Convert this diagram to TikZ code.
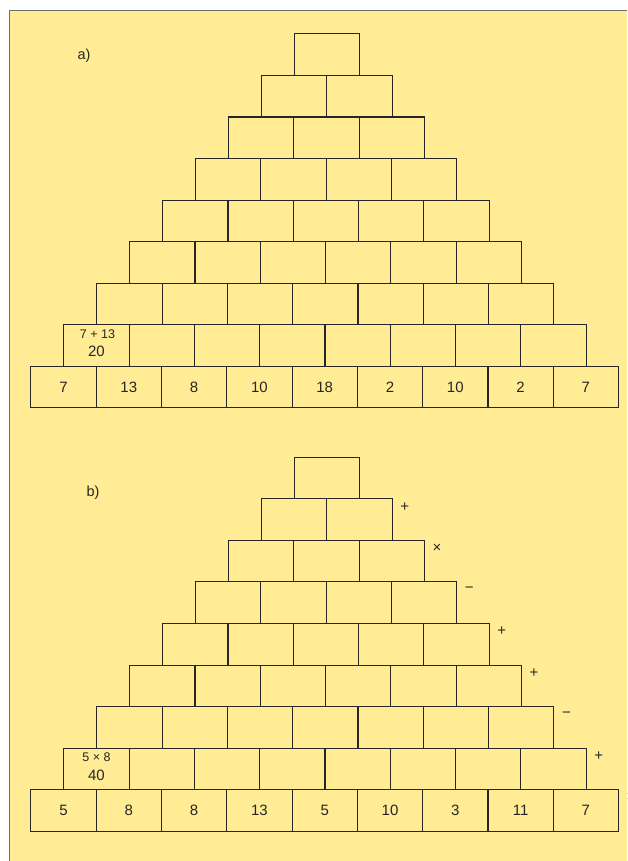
\documentclass[tikz,border=0pt]{standalone}
\usepackage{fontspec}
\setmainfont{Liberation Sans}
\usetikzlibrary{calc}
\definecolor{bgyellow}{RGB}{255,236,148}
\definecolor{linec}{RGB}{38,38,38}
\definecolor{framec}{RGB}{110,110,110}
\begin{document}
\begin{tikzpicture}[x=1pt,y=-1pt,
  cell/.style={draw=linec, line width=1.1pt, minimum width=65.3pt, minimum height=41.56pt,
    inner sep=0pt, anchor=north west, font=\fontsize{15}{17}\selectfont, text=linec},
  note/.style={inner sep=0pt, font=\fontsize{12.5}{14}\selectfont, text=linec},
  bignum/.style={inner sep=0pt, font=\fontsize{15}{17}\selectfont, text=linec},
  opsign/.style={inner sep=0pt, font=\fontsize{15}{17}\selectfont, text=linec},
  partlabel/.style={inner sep=0pt, font=\fontsize{14.5}{16}\selectfont, text=linec}]
\useasboundingbox (0,0) rectangle (627,861);
\fill[bgyellow] (9,11) rectangle (627,861);
\draw[framec, line width=1pt] (9,861) -- (9,11) -- (627,11);

% part a
\foreach \r in {1,...,8} {
  \foreach \k in {1,...,\r} {
    \node[cell] (a-\r-\k) at ({30.3+(9-\r)*32.95+(\k-1)*65.3},{33.3+(\r-1)*41.56}) {};
  }
}
\foreach \v [count=\k] in {7,13,8,10,18,2,10,2,7} {
  \node[cell] (a-9-\k) at ({30.3+(\k-1)*65.3},{33.3+8*41.56}) {\v};
}
\node[note] (a-note) at ($(a-8-1.north)+(1,10)$) {7 + 13};
\node[bignum] (a-sum) at ($(a-8-1.north)+(0,27.5)$) {20};
\node[partlabel] (a-label) at (84,56) {a)};

% part b
\foreach \r in {1,...,8} {
  \foreach \k in {1,...,\r} {
    \node[cell] (b-\r-\k) at ({30.3+(9-\r)*32.95+(\k-1)*65.3},{456.7+(\r-1)*41.56}) {};
  }
}
\foreach \v [count=\k] in {5,8,8,13,5,10,3,11,7} {
  \node[cell] (b-9-\k) at ({30.3+(\k-1)*65.3},{456.7+8*41.56}) {\v};
}
\node[note] (b-note) at ($(b-8-1.north)+(0,10)$) {5 × 8};
\node[bignum] (b-prod) at ($(b-8-1.north)+(0,27.5)$) {40};
\node[partlabel] (b-label) at (93,493) {b)};

\foreach \s [count=\i from 2] in {+,×,−,+,+,−,+,×} {
  \node[opsign] (b-sign-\i) at ($(b-\i-\i.north east)+(12,8.5)$) {\s};
}
\end{tikzpicture}
\end{document}
